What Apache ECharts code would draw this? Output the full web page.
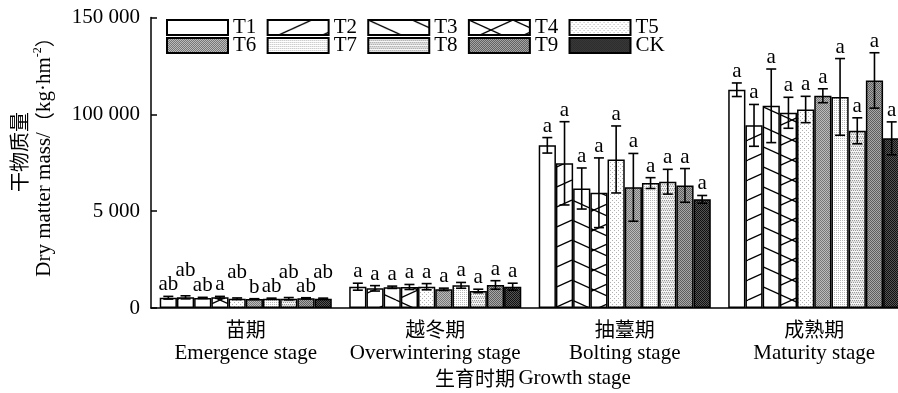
<!DOCTYPE html>
<html>
<head>
<meta charset="utf-8">
<script src="https://cdn.jsdelivr.net/npm/echarts@6/dist/echarts.min.js"></script>
<style>
  html, body { margin: 0; padding: 0; background: #fff; overflow: hidden; }
  #chart { width: 912px; height: 393px; }
</style>
</head>
<body>
<div id="chart"></div>
<script>
// Growth stages (x categories)
const stagesCn = ['苗期', '越冬期', '抽薹期', '成熟期'];
const stagesEn = ['Emergence stage', 'Overwintering stage', 'Bolting stage', 'Maturity stage'];
const treatments = ['T1', 'T2', 'T3', 'T4', 'T5', 'T6', 'T7', 'T8', 'T9', 'CK'];
const yTickLabels = ['0', '5 000', '100 000', '150 000'];

// Dry matter mass (kg·hm-2), mean and SD per treatment, one array per stage
const emergenceMean = [5300, 5500, 5200, 5500, 4800, 4600, 4800, 4800, 5000, 4800];
const emergenceSd   = [700, 800, 300, 500, 400, 200, 300, 600, 300, 300];
const emergenceSig  = ['ab', 'ab', 'ab', 'a', 'ab', 'b', 'ab', 'ab', 'ab', 'ab'];

const overwinterMean = [11000, 10150, 10700, 10850, 11000, 9650, 11700, 8800, 11900, 11000];
const overwinterSd   = [1800, 1400, 600, 1300, 1600, 600, 1500, 900, 2200, 1800];
const overwinterSig  = ['a', 'a', 'a', 'a', 'a', 'a', 'a', 'a', 'a', 'a'];

const boltingMean = [84000, 74700, 61700, 59500, 76700, 62300, 64500, 65200, 63300, 56100];
const boltingSd   = [4000, 21500, 10600, 18000, 17300, 17500, 2800, 6400, 8700, 2000];
const boltingSig  = ['a', 'a', 'a', 'a', 'a', 'a', 'a', 'a', 'a', 'a'];

const maturityMean = [112700, 94300, 104400, 100800, 102500, 109600, 109000, 91500, 117500, 87600];
const maturitySd   = [3500, 10800, 19000, 8000, 6800, 3600, 19800, 6700, 14300, 8500];
const maturitySig  = ['a', 'a', 'a', 'a', 'a', 'a', 'a', 'a', 'a', 'a'];

const stageMeans = [emergenceMean, overwinterMean, boltingMean, maturityMean];
const stageSds = [emergenceSd, overwinterSd, boltingSd, maturitySd];
const stageSigs = [emergenceSig, overwinterSig, boltingSig, maturitySig];

// ---- layout / style ----
const SERIF = '"Liberation Serif", "Times New Roman", serif';
const CJK = '"Noto Sans CJK SC", sans-serif';
const CATEGORY_GAP = 0.092;          // share of each band left empty between groups
// crowded letter labels in the first group are staggered upward
const emergenceRaise = [0, 1, 0, 0, 1, 0, 0, 1, 0, 1];

function tile(w, h, draw) {
  const c = document.createElement('canvas');
  c.width = w; c.height = h;
  const g = c.getContext('2d');
  g.fillStyle = '#fff';
  g.fillRect(0, 0, w, h);
  draw(g, w, h);
  return { image: c, repeat: 'repeat' };
}
function hatch(dirs) {
  return tile(44, 20, (g, w, h) => {
    g.strokeStyle = '#000';
    g.lineWidth = 1.3;
    for (let k = -1; k <= 1; k++) {
      g.beginPath();
      if (dirs.includes('/')) { g.moveTo(0, h + k * h); g.lineTo(w, k * h); }
      if (dirs.includes('\\')) { g.moveTo(0, k * h); g.lineTo(w, h + k * h); }
      g.stroke();
    }
  });
}
function dots(cells) {
  // cells: rows of colour strings forming a pixel tile
  const h = cells.length, w = cells[0].length;
  return tile(w, h, (g) => {
    for (let y = 0; y < h; y++) for (let x = 0; x < w; x++) {
      g.fillStyle = cells[y][x];
      g.fillRect(x, y, 1, 1);
    }
  });
}
const fills = [
  '#ffffff',
  hatch('/'),
  hatch('\\'),
  hatch('/\\'),
  dots([['#b0b0b0', '#fff', '#fff', '#fff'], ['#fff', '#fff', '#fff', '#fff'], ['#fff', '#fff', '#b0b0b0', '#fff'], ['#fff', '#fff', '#fff', '#fff']]),
  dots([['#777', '#bbb'], ['#bbb', '#777']]),
  dots([['#b8b8b8', '#fff'], ['#fff', '#fff']]),
  dots([['#999', '#eee', '#999', '#eee'], ['#ddd', '#ddd', '#ddd', '#ddd'], ['#eee', '#999', '#eee', '#999'], ['#f6f6f6', '#f6f6f6', '#f6f6f6', '#f6f6f6']]),
  dots([['#5e5e5e', '#a8a8a8'], ['#a8a8a8', '#5e5e5e']]),
  dots([['#111', '#555'], ['#555', '#111']])
];

const barSeries = treatments.map((name, s) => ({
  name,
  type: 'bar',
  barGap: '0%',
  barCategoryGap: (CATEGORY_GAP * 100) + '%',
  data: stageMeans.map(arr => arr[s]),
  itemStyle: { color: fills[s], borderColor: '#000', borderWidth: 1.5 },
  emphasis: { disabled: true },
  z: 2
}));

const errData = [];
for (let c = 0; c < stageMeans.length; c++) {
  for (let s = 0; s < treatments.length; s++) {
    errData.push([c, s, stageMeans[c][s], stageSds[c][s], stageSigs[c][s]]);
  }
}

const errorSeries = {
  type: 'custom',
  name: 'err',
  data: errData,
  z: 5,
  clip: false,
  silent: true,
  encode: { x: 0, y: 2 },
  renderItem(params, api) {
    const c = api.value(0), s = api.value(1), mean = api.value(2), sd = api.value(3);
    const sig = errData[params.dataIndex][4];
    const band = api.size([1, 0])[0];
    const bw = band * (1 - CATEGORY_GAP) / treatments.length;
    const cx = api.coord([c, 0])[0] + (s - (treatments.length - 1) / 2) * bw;
    const yTop = api.coord([c, mean + sd])[1];
    const yBot = api.coord([c, mean - sd])[1];
    const half = 5;
    const st = { stroke: '#000', lineWidth: 1.6 };
    const raise = c === 0 ? emergenceRaise[s] * 14 : 0;
    return {
      type: 'group',
      children: [
        { type: 'line', shape: { x1: cx, y1: yTop, x2: cx, y2: yBot }, style: st },
        { type: 'line', shape: { x1: cx - half, y1: yTop, x2: cx + half, y2: yTop }, style: st },
        { type: 'line', shape: { x1: cx - half, y1: yBot, x2: cx + half, y2: yBot }, style: st },
        {
          type: 'text',
          x: cx, y: yTop - 1 - raise,
          style: { text: sig, font: '21px ' + SERIF, fill: '#000', align: 'center', verticalAlign: 'bottom' }
        }
      ]
    };
  }
};

const legendBase = {
  left: 166,
  padding: 0,
  itemWidth: 61,
  itemHeight: 15,
  itemGap: 10.3,
  icon: 'rect',
  selectedMode: false,
  textStyle: { fontSize: 21, fontFamily: SERIF, color: '#000', lineHeight: 17 }
};

const option = {
  animation: false,
  backgroundColor: '#fff',
  grid: { left: 151, top: 17.5, width: 758, height: 290.5 },
  legend: [
    Object.assign({}, legendBase, { top: 17, data: treatments.slice(0, 5) }),
    Object.assign({}, legendBase, { top: 35, data: treatments.slice(5) })
  ],
  xAxis: {
    type: 'category',
    data: stagesCn.map((cn, i) => cn + '|' + stagesEn[i]),
    axisLine: { lineStyle: { color: '#000', width: 1.5 } },
    axisTick: { show: false },
    axisLabel: {
      margin: 9,
      interval: 0,
      formatter: v => {
        const p = v.split('|');
        return '{cn|' + p[0] + '}\n{en|' + p[1] + '}';
      },
      rich: {
        cn: { fontFamily: CJK, fontSize: 20, lineHeight: 24, color: '#000' },
        en: { fontFamily: SERIF, fontSize: 21, lineHeight: 24, color: '#000' }
      }
    }
  },
  yAxis: {
    type: 'value',
    min: 0,
    max: 150000,
    interval: 50000,
    axisLine: { show: true, lineStyle: { color: '#000', width: 1.5 } },
    axisTick: { show: true, inside: true, length: 6, lineStyle: { color: '#000', width: 1.5 } },
    splitLine: { show: false },
    axisLabel: {
      margin: 11,
      fontSize: 21,
      fontFamily: SERIF,
      color: '#000',
      formatter: v => yTickLabels[Math.round(v / 50000)]
    }
  },
  graphic: [
    {
      type: 'text',
      x: 32, y: 152,
      rotation: Math.PI / 2,
      style: {
        text: '{cn|干物质量}\n{en|Dry matter mass/}{cn|（}{en|kg·hm}{sup|-2}{cn|）}',
        align: 'center',
        verticalAlign: 'middle',
        rich: {
          cn: { fontFamily: CJK, fontSize: 20, lineHeight: 25, fill: '#000' },
          en: { fontFamily: SERIF, fontSize: 21, lineHeight: 25, fill: '#000' },
          sup: { fontFamily: SERIF, fontSize: 12, lineHeight: 25, verticalAlign: 'top', fill: '#000' }
        }
      }
    },
    {
      type: 'text',
      x: 533, y: 378,
      style: {
        text: '{cn|生育时期} {en|Growth stage}',
        align: 'center',
        verticalAlign: 'middle',
        rich: {
          cn: { fontFamily: CJK, fontSize: 20, fill: '#000' },
          en: { fontFamily: SERIF, fontSize: 21, fill: '#000' }
        }
      }
    }
  ],
  series: barSeries.concat([errorSeries])
};

const chart = echarts.init(document.getElementById('chart'), null, { renderer: 'canvas' });
chart.setOption(option);
</script>
</body>
</html>
